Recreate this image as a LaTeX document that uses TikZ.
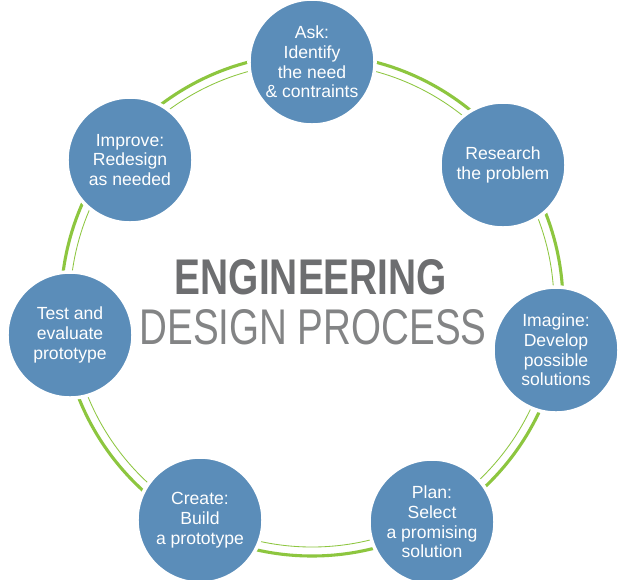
\documentclass[tikz,border=0pt]{standalone}
\usepackage{fontspec}
\setmainfont{Liberation Sans}
\definecolor{stepblue}{HTML}{5B8DB9}
\definecolor{ringgreen}{HTML}{8DC63F}
\definecolor{titlegray}{HTML}{6D6E70}
\tikzset{
  stepnode/.style={circle, fill=stepblue, draw=white, line width=2.5pt, minimum size=3.15cm,
    text=white, align=center, font=\fontsize{12.5}{14}\selectfont, inner sep=0pt}
}
\begin{document}
\begin{tikzpicture}[x=0.025cm, y=-0.025cm]
\useasboundingbox[fill=white] (0,0) rectangle (620,580);

% ring
\draw[ringgreen, line width=2.2pt] (312,305) circle (251);
\draw[ringgreen, line width=0.6pt] (312,305) circle (242);

% steps
\node[stepnode] (ask) at (312,62) {Ask:\\Identify\\the need\\\& contraints};
\node[stepnode] (research) at (503,165) {Research\\the problem};
\node[stepnode] (imagine) at (556,350) {Imagine:\\Develop\\possible\\solutions};
\node[stepnode] (plan) at (432,522) {Plan:\\Select\\a promising\\solution};
\node[stepnode] (create) at (200,520) {Create:\\Build\\a prototype};
\node[stepnode] (test) at (70,335) {Test and\\evaluate\\prototype};
\node[stepnode] (improve) at (130,160) {Improve:\\Redesign\\as needed};

% title
\node[text=titlegray, inner sep=0pt] (title1) at (311,277)
  {\resizebox{6.8cm}{0.875cm}{\bfseries ENGINEERING}};
\node[text=titlegray!85, inner sep=0pt] (title2) at (313,327)
  {\resizebox{8.675cm}{0.875cm}{DESIGN PROCESS}};
\end{tikzpicture}
\end{document}
